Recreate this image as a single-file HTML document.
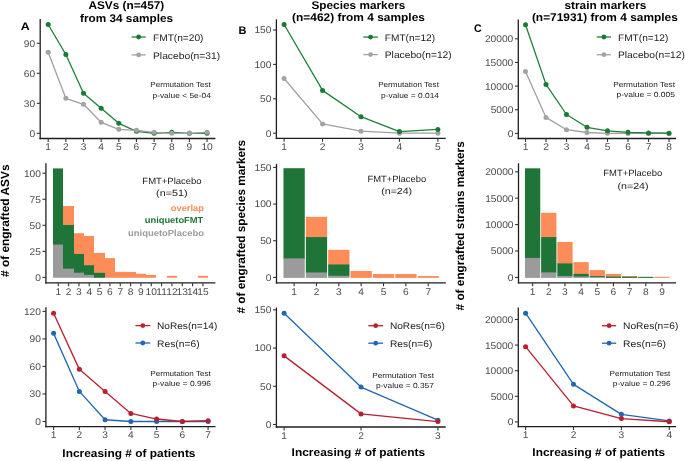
<!DOCTYPE html>
<html><head><meta charset="utf-8"><title>Engraftment figure</title>
<style>html,body{margin:0;padding:0;background:#fff;width:685px;height:461px;overflow:hidden;}
text{font-family:'Liberation Sans',sans-serif;text-rendering:geometricPrecision;}</style></head>
<body>
<svg width="685" height="461" viewBox="0 0 685 461" style="display:block;will-change:transform;filter:blur(0.3px);font-family:'Liberation Sans',sans-serif">
<rect width="100%" height="100%" fill="#fff"/>
<text transform="translate(88.45,9) scale(1,0.95)" font-size="11.8" fill="#000" font-weight="bold" textLength="75.74" lengthAdjust="spacingAndGlyphs">ASVs (n=457)</text>
<text transform="translate(80.06,21.6) scale(1,0.95)" font-size="11.8" fill="#000" font-weight="bold" textLength="92.94" lengthAdjust="spacingAndGlyphs">from 34 samples</text>
<text transform="translate(311.45,8.8) scale(1,0.95)" font-size="11.8" fill="#000" font-weight="bold" textLength="93.93" lengthAdjust="spacingAndGlyphs">Species markers</text>
<text transform="translate(292.1,21.4) scale(1,0.95)" font-size="11.8" fill="#000" font-weight="bold" textLength="132.82" lengthAdjust="spacingAndGlyphs">(n=462) from 4 samples</text>
<text transform="translate(564.42,8.7) scale(1,0.95)" font-size="11.8" fill="#000" font-weight="bold" textLength="81.99" lengthAdjust="spacingAndGlyphs">strain markers</text>
<text transform="translate(531.9,21.1) scale(1,0.95)" font-size="11.8" fill="#000" font-weight="bold" textLength="145.94" lengthAdjust="spacingAndGlyphs">(n=71931) from 4 samples</text>
<text x="20.73" y="29.7" font-size="11" fill="#000" font-weight="bold" textLength="8.97" lengthAdjust="spacingAndGlyphs">A</text>
<text x="238.43" y="33.6" font-size="11" fill="#000" font-weight="bold" textLength="7.93" lengthAdjust="spacingAndGlyphs">B</text>
<text x="473.88" y="32.2" font-size="11" fill="#000" font-weight="bold" textLength="7.67" lengthAdjust="spacingAndGlyphs">C</text>
<line x1="40.2" y1="19.1" x2="40.2" y2="139.15" stroke="#1e1e1e" stroke-width="1.3"/>
<line x1="39.55" y1="138.5" x2="215.4" y2="138.5" stroke="#1e1e1e" stroke-width="1.3"/>
<line x1="36.8" y1="133.3" x2="40.2" y2="133.3" stroke="#333333" stroke-width="1.1"/>
<text transform="translate(35.2,136.7) scale(1,0.95)" font-size="10.2" text-anchor="end" fill="#4d4d4d">0</text>
<line x1="36.8" y1="103.3" x2="40.2" y2="103.3" stroke="#333333" stroke-width="1.1"/>
<text transform="translate(35.2,106.7) scale(1,0.95)" font-size="10.2" text-anchor="end" fill="#4d4d4d">30</text>
<line x1="36.8" y1="73.3" x2="40.2" y2="73.3" stroke="#333333" stroke-width="1.1"/>
<text transform="translate(35.2,76.7) scale(1,0.95)" font-size="10.2" text-anchor="end" fill="#4d4d4d">60</text>
<line x1="36.8" y1="43.3" x2="40.2" y2="43.3" stroke="#333333" stroke-width="1.1"/>
<text transform="translate(35.2,46.7) scale(1,0.95)" font-size="10.2" text-anchor="end" fill="#4d4d4d">90</text>
<line x1="48.2" y1="138.5" x2="48.2" y2="141.9" stroke="#333333" stroke-width="1.1"/>
<text transform="translate(48.2,150.2) scale(1,0.95)" font-size="10.2" text-anchor="middle" fill="#4d4d4d">1</text>
<line x1="65.85" y1="138.5" x2="65.85" y2="141.9" stroke="#333333" stroke-width="1.1"/>
<text transform="translate(65.85,150.2) scale(1,0.95)" font-size="10.2" text-anchor="middle" fill="#4d4d4d">2</text>
<line x1="83.5" y1="138.5" x2="83.5" y2="141.9" stroke="#333333" stroke-width="1.1"/>
<text transform="translate(83.5,150.2) scale(1,0.95)" font-size="10.2" text-anchor="middle" fill="#4d4d4d">3</text>
<line x1="101.15" y1="138.5" x2="101.15" y2="141.9" stroke="#333333" stroke-width="1.1"/>
<text transform="translate(101.15,150.2) scale(1,0.95)" font-size="10.2" text-anchor="middle" fill="#4d4d4d">4</text>
<line x1="118.8" y1="138.5" x2="118.8" y2="141.9" stroke="#333333" stroke-width="1.1"/>
<text transform="translate(118.8,150.2) scale(1,0.95)" font-size="10.2" text-anchor="middle" fill="#4d4d4d">5</text>
<line x1="136.45" y1="138.5" x2="136.45" y2="141.9" stroke="#333333" stroke-width="1.1"/>
<text transform="translate(136.45,150.2) scale(1,0.95)" font-size="10.2" text-anchor="middle" fill="#4d4d4d">6</text>
<line x1="154.1" y1="138.5" x2="154.1" y2="141.9" stroke="#333333" stroke-width="1.1"/>
<text transform="translate(154.1,150.2) scale(1,0.95)" font-size="10.2" text-anchor="middle" fill="#4d4d4d">7</text>
<line x1="171.75" y1="138.5" x2="171.75" y2="141.9" stroke="#333333" stroke-width="1.1"/>
<text transform="translate(171.75,150.2) scale(1,0.95)" font-size="10.2" text-anchor="middle" fill="#4d4d4d">8</text>
<line x1="189.4" y1="138.5" x2="189.4" y2="141.9" stroke="#333333" stroke-width="1.1"/>
<text transform="translate(189.4,150.2) scale(1,0.95)" font-size="10.2" text-anchor="middle" fill="#4d4d4d">9</text>
<line x1="207.05" y1="138.5" x2="207.05" y2="141.9" stroke="#333333" stroke-width="1.1"/>
<text transform="translate(207.05,150.2) scale(1,0.95)" font-size="10.2" text-anchor="middle" fill="#4d4d4d">10</text>
<polyline points="48.2,24.5 65.85,54.5 83.5,93.3 101.15,108.3 118.8,123.3 136.45,131.3 154.1,133.3 171.75,132.3 189.4,133.3 207.05,133.3" fill="none" stroke="#1f7f3b" stroke-width="1.3" stroke-linejoin="round"/>
<polyline points="48.2,52.3 65.85,98.3 83.5,104.3 101.15,122.3 118.8,129.3 136.45,130.3 154.1,132.3 171.75,133.3 189.4,133.3 207.05,132.3" fill="none" stroke="#a0a0a0" stroke-width="1.3" stroke-linejoin="round"/>
<circle cx="48.2" cy="24.5" r="2.5" fill="#187a33"/>
<circle cx="65.85" cy="54.5" r="2.5" fill="#187a33"/>
<circle cx="83.5" cy="93.3" r="2.5" fill="#187a33"/>
<circle cx="101.15" cy="108.3" r="2.5" fill="#187a33"/>
<circle cx="118.8" cy="123.3" r="2.5" fill="#187a33"/>
<circle cx="136.45" cy="131.3" r="2.5" fill="#187a33"/>
<circle cx="154.1" cy="133.3" r="2.5" fill="#187a33"/>
<circle cx="171.75" cy="132.3" r="2.5" fill="#187a33"/>
<circle cx="189.4" cy="133.3" r="2.5" fill="#187a33"/>
<circle cx="207.05" cy="133.3" r="2.5" fill="#187a33"/>
<circle cx="48.2" cy="52.3" r="2.5" fill="#a3a3a3"/>
<circle cx="65.85" cy="98.3" r="2.5" fill="#a3a3a3"/>
<circle cx="83.5" cy="104.3" r="2.5" fill="#a3a3a3"/>
<circle cx="101.15" cy="122.3" r="2.5" fill="#a3a3a3"/>
<circle cx="118.8" cy="129.3" r="2.5" fill="#a3a3a3"/>
<circle cx="136.45" cy="130.3" r="2.5" fill="#a3a3a3"/>
<circle cx="154.1" cy="132.3" r="2.5" fill="#a3a3a3"/>
<circle cx="171.75" cy="133.3" r="2.5" fill="#a3a3a3"/>
<circle cx="189.4" cy="133.3" r="2.5" fill="#a3a3a3"/>
<circle cx="207.05" cy="132.3" r="2.5" fill="#a3a3a3"/>
<line x1="131.6" y1="37" x2="145.7" y2="37" stroke="#1f7f3b" stroke-width="1.3"/>
<circle cx="138.65" cy="37" r="2.4" fill="#187a33"/>
<text transform="translate(152.99,40.6) scale(1,0.95)" font-size="10" fill="#1a1a1a" textLength="50.45" lengthAdjust="spacingAndGlyphs">FMT(n=20)</text>
<line x1="131.6" y1="54.9" x2="145.7" y2="54.9" stroke="#a0a0a0" stroke-width="1.3"/>
<circle cx="138.65" cy="54.9" r="2.4" fill="#a3a3a3"/>
<text transform="translate(152.98,58.5) scale(1,0.95)" font-size="10" fill="#1a1a1a" textLength="67.27" lengthAdjust="spacingAndGlyphs">Placebo(n=31)</text>
<text transform="translate(150.35,87.2) scale(1,0.92)" font-size="8" fill="#1a1a1a" textLength="60.39" lengthAdjust="spacingAndGlyphs">Permutation Test</text>
<text transform="translate(152.51,97.7) scale(1,0.92)" font-size="8" fill="#1a1a1a" textLength="58.31" lengthAdjust="spacingAndGlyphs">p-value &lt; 5e-04</text>
<rect x="53" y="168.41" width="10" height="76.77" fill="#1f7538"/>
<rect x="53" y="244.58" width="10" height="33.22" fill="#9b9b9b"/>
<rect x="63" y="206.02" width="11" height="19.56" fill="#fc8d59"/>
<rect x="63" y="224.99" width="11" height="44.26" fill="#1f7538"/>
<rect x="63" y="268.65" width="11" height="9.15" fill="#9b9b9b"/>
<rect x="74" y="233.22" width="10" height="21.34" fill="#fc8d59"/>
<rect x="74" y="253.95" width="10" height="19.36" fill="#1f7538"/>
<rect x="74" y="272.71" width="10" height="5.09" fill="#9b9b9b"/>
<rect x="84" y="235.93" width="10" height="29.88" fill="#fc8d59"/>
<rect x="84" y="265.21" width="10" height="10.29" fill="#1f7538"/>
<rect x="84" y="274.9" width="10" height="2.9" fill="#9b9b9b"/>
<rect x="94" y="252.91" width="11" height="20.5" fill="#fc8d59"/>
<rect x="94" y="272.82" width="11" height="4.98" fill="#1f7538"/>
<rect x="105" y="258.12" width="10" height="19.68" fill="#fc8d59"/>
<rect x="115" y="271.88" width="10" height="5.92" fill="#fc8d59"/>
<rect x="125" y="271.88" width="11" height="5.92" fill="#fc8d59"/>
<rect x="136" y="273.75" width="10" height="4.05" fill="#fc8d59"/>
<rect x="146" y="275" width="10" height="2.8" fill="#fc8d59"/>
<rect x="167" y="275.84" width="10" height="1.96" fill="#fc8d59"/>
<rect x="198" y="275.84" width="10" height="1.96" fill="#fc8d59"/>
<line x1="45.9" y1="163.2" x2="45.9" y2="283.45" stroke="#1e1e1e" stroke-width="1.3"/>
<line x1="45.25" y1="282.8" x2="215.4" y2="282.8" stroke="#1e1e1e" stroke-width="1.3"/>
<line x1="42.5" y1="277.4" x2="45.9" y2="277.4" stroke="#333333" stroke-width="1.1"/>
<text transform="translate(40.9,280.8) scale(1,0.95)" font-size="10.2" text-anchor="end" fill="#4d4d4d">0</text>
<line x1="42.5" y1="251.35" x2="45.9" y2="251.35" stroke="#333333" stroke-width="1.1"/>
<text transform="translate(40.9,254.75) scale(1,0.95)" font-size="10.2" text-anchor="end" fill="#4d4d4d">25</text>
<line x1="42.5" y1="225.3" x2="45.9" y2="225.3" stroke="#333333" stroke-width="1.1"/>
<text transform="translate(40.9,228.7) scale(1,0.95)" font-size="10.2" text-anchor="end" fill="#4d4d4d">50</text>
<line x1="42.5" y1="199.25" x2="45.9" y2="199.25" stroke="#333333" stroke-width="1.1"/>
<text transform="translate(40.9,202.65) scale(1,0.95)" font-size="10.2" text-anchor="end" fill="#4d4d4d">75</text>
<line x1="42.5" y1="173.2" x2="45.9" y2="173.2" stroke="#333333" stroke-width="1.1"/>
<text transform="translate(40.9,176.6) scale(1,0.95)" font-size="10.2" text-anchor="end" fill="#4d4d4d">100</text>
<line x1="58.27" y1="282.8" x2="58.27" y2="286.2" stroke="#333333" stroke-width="1.1"/>
<text transform="translate(58.27,294.5) scale(1,0.95)" font-size="10.2" text-anchor="middle" fill="#4d4d4d">1</text>
<line x1="68.6" y1="282.8" x2="68.6" y2="286.2" stroke="#333333" stroke-width="1.1"/>
<text transform="translate(68.6,294.5) scale(1,0.95)" font-size="10.2" text-anchor="middle" fill="#4d4d4d">2</text>
<line x1="78.94" y1="282.8" x2="78.94" y2="286.2" stroke="#333333" stroke-width="1.1"/>
<text transform="translate(78.94,294.5) scale(1,0.95)" font-size="10.2" text-anchor="middle" fill="#4d4d4d">3</text>
<line x1="89.27" y1="282.8" x2="89.27" y2="286.2" stroke="#333333" stroke-width="1.1"/>
<text transform="translate(89.27,294.5) scale(1,0.95)" font-size="10.2" text-anchor="middle" fill="#4d4d4d">4</text>
<line x1="99.6" y1="282.8" x2="99.6" y2="286.2" stroke="#333333" stroke-width="1.1"/>
<text transform="translate(99.6,294.5) scale(1,0.95)" font-size="10.2" text-anchor="middle" fill="#4d4d4d">5</text>
<line x1="109.94" y1="282.8" x2="109.94" y2="286.2" stroke="#333333" stroke-width="1.1"/>
<text transform="translate(109.94,294.5) scale(1,0.95)" font-size="10.2" text-anchor="middle" fill="#4d4d4d">6</text>
<line x1="120.27" y1="282.8" x2="120.27" y2="286.2" stroke="#333333" stroke-width="1.1"/>
<text transform="translate(120.27,294.5) scale(1,0.95)" font-size="10.2" text-anchor="middle" fill="#4d4d4d">7</text>
<line x1="130.6" y1="282.8" x2="130.6" y2="286.2" stroke="#333333" stroke-width="1.1"/>
<text transform="translate(130.6,294.5) scale(1,0.95)" font-size="10.2" text-anchor="middle" fill="#4d4d4d">8</text>
<line x1="140.93" y1="282.8" x2="140.93" y2="286.2" stroke="#333333" stroke-width="1.1"/>
<text transform="translate(140.93,294.5) scale(1,0.95)" font-size="10.2" text-anchor="middle" fill="#4d4d4d">9</text>
<line x1="151.27" y1="282.8" x2="151.27" y2="286.2" stroke="#333333" stroke-width="1.1"/>
<text transform="translate(151.27,294.5) scale(1,0.95)" font-size="10.2" text-anchor="middle" fill="#4d4d4d">10</text>
<line x1="161.6" y1="282.8" x2="161.6" y2="286.2" stroke="#333333" stroke-width="1.1"/>
<text transform="translate(161.6,294.5) scale(1,0.95)" font-size="10.2" text-anchor="middle" fill="#4d4d4d">11</text>
<line x1="171.93" y1="282.8" x2="171.93" y2="286.2" stroke="#333333" stroke-width="1.1"/>
<text transform="translate(171.93,294.5) scale(1,0.95)" font-size="10.2" text-anchor="middle" fill="#4d4d4d">12</text>
<line x1="182.27" y1="282.8" x2="182.27" y2="286.2" stroke="#333333" stroke-width="1.1"/>
<text transform="translate(182.27,294.5) scale(1,0.95)" font-size="10.2" text-anchor="middle" fill="#4d4d4d">13</text>
<line x1="192.6" y1="282.8" x2="192.6" y2="286.2" stroke="#333333" stroke-width="1.1"/>
<text transform="translate(192.6,294.5) scale(1,0.95)" font-size="10.2" text-anchor="middle" fill="#4d4d4d">14</text>
<line x1="202.93" y1="282.8" x2="202.93" y2="286.2" stroke="#333333" stroke-width="1.1"/>
<text transform="translate(202.93,294.5) scale(1,0.95)" font-size="10.2" text-anchor="middle" fill="#4d4d4d">15</text>
<text transform="translate(142.34,183.7) scale(1,0.95)" font-size="9.4" fill="#1a1a1a" textLength="59.26" lengthAdjust="spacingAndGlyphs">FMT+Placebo</text>
<text transform="translate(156.05,195.8) scale(1,0.95)" font-size="9.4" fill="#1a1a1a" textLength="31.48" lengthAdjust="spacingAndGlyphs">(n=51)</text>
<text transform="translate(170.73,211.3) scale(1,0.95)" font-size="9.3" fill="#fc8d59" font-weight="bold" textLength="33.22" lengthAdjust="spacingAndGlyphs">overlap</text>
<text transform="translate(144.74,223.3) scale(1,0.95)" font-size="9.3" fill="#1f7538" font-weight="bold" textLength="58.51" lengthAdjust="spacingAndGlyphs">uniquetoFMT</text>
<text transform="translate(128.03,235.5) scale(1,0.95)" font-size="9.3" fill="#9b9b9b" font-weight="bold" textLength="75.91" lengthAdjust="spacingAndGlyphs">uniquetoPlacebo</text>
<line x1="45.9" y1="307.3" x2="45.9" y2="427.35" stroke="#1e1e1e" stroke-width="1.3"/>
<line x1="45.25" y1="426.7" x2="215.5" y2="426.7" stroke="#1e1e1e" stroke-width="1.3"/>
<line x1="42.5" y1="421.5" x2="45.9" y2="421.5" stroke="#333333" stroke-width="1.1"/>
<text transform="translate(40.9,424.9) scale(1,0.95)" font-size="10.2" text-anchor="end" fill="#4d4d4d">0</text>
<line x1="42.5" y1="393.96" x2="45.9" y2="393.96" stroke="#333333" stroke-width="1.1"/>
<text transform="translate(40.9,397.36) scale(1,0.95)" font-size="10.2" text-anchor="end" fill="#4d4d4d">30</text>
<line x1="42.5" y1="366.42" x2="45.9" y2="366.42" stroke="#333333" stroke-width="1.1"/>
<text transform="translate(40.9,369.82) scale(1,0.95)" font-size="10.2" text-anchor="end" fill="#4d4d4d">60</text>
<line x1="42.5" y1="338.88" x2="45.9" y2="338.88" stroke="#333333" stroke-width="1.1"/>
<text transform="translate(40.9,342.28) scale(1,0.95)" font-size="10.2" text-anchor="end" fill="#4d4d4d">90</text>
<line x1="42.5" y1="311.34" x2="45.9" y2="311.34" stroke="#333333" stroke-width="1.1"/>
<text transform="translate(40.9,314.74) scale(1,0.95)" font-size="10.2" text-anchor="end" fill="#4d4d4d">120</text>
<line x1="53.6" y1="426.7" x2="53.6" y2="430.1" stroke="#333333" stroke-width="1.1"/>
<text transform="translate(53.6,438.4) scale(1,0.95)" font-size="10.2" text-anchor="middle" fill="#4d4d4d">1</text>
<line x1="79.35" y1="426.7" x2="79.35" y2="430.1" stroke="#333333" stroke-width="1.1"/>
<text transform="translate(79.35,438.4) scale(1,0.95)" font-size="10.2" text-anchor="middle" fill="#4d4d4d">2</text>
<line x1="105.1" y1="426.7" x2="105.1" y2="430.1" stroke="#333333" stroke-width="1.1"/>
<text transform="translate(105.1,438.4) scale(1,0.95)" font-size="10.2" text-anchor="middle" fill="#4d4d4d">3</text>
<line x1="130.85" y1="426.7" x2="130.85" y2="430.1" stroke="#333333" stroke-width="1.1"/>
<text transform="translate(130.85,438.4) scale(1,0.95)" font-size="10.2" text-anchor="middle" fill="#4d4d4d">4</text>
<line x1="156.6" y1="426.7" x2="156.6" y2="430.1" stroke="#333333" stroke-width="1.1"/>
<text transform="translate(156.6,438.4) scale(1,0.95)" font-size="10.2" text-anchor="middle" fill="#4d4d4d">5</text>
<line x1="182.35" y1="426.7" x2="182.35" y2="430.1" stroke="#333333" stroke-width="1.1"/>
<text transform="translate(182.35,438.4) scale(1,0.95)" font-size="10.2" text-anchor="middle" fill="#4d4d4d">6</text>
<line x1="208.1" y1="426.7" x2="208.1" y2="430.1" stroke="#333333" stroke-width="1.1"/>
<text transform="translate(208.1,438.4) scale(1,0.95)" font-size="10.2" text-anchor="middle" fill="#4d4d4d">7</text>
<polyline points="53.6,333.37 79.35,391.39 105.1,419.76 130.85,421.5 156.6,421.5 182.35,421.5 208.1,421.5" fill="none" stroke="#2366b0" stroke-width="1.3" stroke-linejoin="round"/>
<polyline points="53.6,313.18 79.35,369.36 105.1,391.39 130.85,413.42 156.6,419.02 182.35,421.5 208.1,420.67" fill="none" stroke="#b8202f" stroke-width="1.3" stroke-linejoin="round"/>
<circle cx="53.6" cy="333.37" r="2.5" fill="#2366b0"/>
<circle cx="79.35" cy="391.39" r="2.5" fill="#2366b0"/>
<circle cx="105.1" cy="419.76" r="2.5" fill="#2366b0"/>
<circle cx="130.85" cy="421.5" r="2.5" fill="#2366b0"/>
<circle cx="156.6" cy="421.5" r="2.5" fill="#2366b0"/>
<circle cx="182.35" cy="421.5" r="2.5" fill="#2366b0"/>
<circle cx="208.1" cy="421.5" r="2.5" fill="#2366b0"/>
<circle cx="53.6" cy="313.18" r="2.5" fill="#b8202f"/>
<circle cx="79.35" cy="369.36" r="2.5" fill="#b8202f"/>
<circle cx="105.1" cy="391.39" r="2.5" fill="#b8202f"/>
<circle cx="130.85" cy="413.42" r="2.5" fill="#b8202f"/>
<circle cx="156.6" cy="419.02" r="2.5" fill="#b8202f"/>
<circle cx="182.35" cy="421.5" r="2.5" fill="#b8202f"/>
<circle cx="208.1" cy="420.67" r="2.5" fill="#b8202f"/>
<line x1="135.4" y1="325.6" x2="150.2" y2="325.6" stroke="#b8202f" stroke-width="1.3"/>
<circle cx="142.8" cy="325.6" r="2.4" fill="#b8202f"/>
<text transform="translate(157.09,329.2) scale(1,0.95)" font-size="10" fill="#1a1a1a" textLength="60.26" lengthAdjust="spacingAndGlyphs">NoRes(n=14)</text>
<line x1="135.4" y1="343" x2="150.2" y2="343" stroke="#2366b0" stroke-width="1.3"/>
<circle cx="142.8" cy="343" r="2.4" fill="#2366b0"/>
<text transform="translate(157.08,346.6) scale(1,0.95)" font-size="10" fill="#1a1a1a" textLength="42.54" lengthAdjust="spacingAndGlyphs">Res(n=6)</text>
<text transform="translate(150.35,375.6) scale(1,0.92)" font-size="8" fill="#1a1a1a" textLength="60.39" lengthAdjust="spacingAndGlyphs">Permutation Test</text>
<text transform="translate(152.51,385.9) scale(1,0.92)" font-size="8" fill="#1a1a1a" textLength="58.55" lengthAdjust="spacingAndGlyphs">p-value = 0.996</text>
<line x1="276.4" y1="19.3" x2="276.4" y2="139.1" stroke="#1e1e1e" stroke-width="1.3"/>
<line x1="275.75" y1="138.45" x2="445.7" y2="138.45" stroke="#1e1e1e" stroke-width="1.3"/>
<line x1="273" y1="133.2" x2="276.4" y2="133.2" stroke="#333333" stroke-width="1.1"/>
<text transform="translate(271.4,136.6) scale(1,0.95)" font-size="10.2" text-anchor="end" fill="#4d4d4d">0</text>
<line x1="273" y1="98.8" x2="276.4" y2="98.8" stroke="#333333" stroke-width="1.1"/>
<text transform="translate(271.4,102.2) scale(1,0.95)" font-size="10.2" text-anchor="end" fill="#4d4d4d">50</text>
<line x1="273" y1="64.4" x2="276.4" y2="64.4" stroke="#333333" stroke-width="1.1"/>
<text transform="translate(271.4,67.8) scale(1,0.95)" font-size="10.2" text-anchor="end" fill="#4d4d4d">100</text>
<line x1="273" y1="30" x2="276.4" y2="30" stroke="#333333" stroke-width="1.1"/>
<text transform="translate(271.4,33.4) scale(1,0.95)" font-size="10.2" text-anchor="end" fill="#4d4d4d">150</text>
<line x1="284.1" y1="138.45" x2="284.1" y2="141.85" stroke="#333333" stroke-width="1.1"/>
<text transform="translate(284.1,150.15) scale(1,0.95)" font-size="10.2" text-anchor="middle" fill="#4d4d4d">1</text>
<line x1="322.55" y1="138.45" x2="322.55" y2="141.85" stroke="#333333" stroke-width="1.1"/>
<text transform="translate(322.55,150.15) scale(1,0.95)" font-size="10.2" text-anchor="middle" fill="#4d4d4d">2</text>
<line x1="361" y1="138.45" x2="361" y2="141.85" stroke="#333333" stroke-width="1.1"/>
<text transform="translate(361,150.15) scale(1,0.95)" font-size="10.2" text-anchor="middle" fill="#4d4d4d">3</text>
<line x1="399.45" y1="138.45" x2="399.45" y2="141.85" stroke="#333333" stroke-width="1.1"/>
<text transform="translate(399.45,150.15) scale(1,0.95)" font-size="10.2" text-anchor="middle" fill="#4d4d4d">4</text>
<line x1="437.9" y1="138.45" x2="437.9" y2="141.85" stroke="#333333" stroke-width="1.1"/>
<text transform="translate(437.9,150.15) scale(1,0.95)" font-size="10.2" text-anchor="middle" fill="#4d4d4d">5</text>
<polyline points="284.1,78.5 322.55,123.91 361,131.14 399.45,133.2 437.9,133.2" fill="none" stroke="#a0a0a0" stroke-width="1.3" stroke-linejoin="round"/>
<polyline points="284.1,24.5 322.55,90.41 361,116.69 399.45,131.62 437.9,129.42" fill="none" stroke="#1f7f3b" stroke-width="1.3" stroke-linejoin="round"/>
<circle cx="284.1" cy="78.5" r="2.5" fill="#a3a3a3"/>
<circle cx="322.55" cy="123.91" r="2.5" fill="#a3a3a3"/>
<circle cx="361" cy="131.14" r="2.5" fill="#a3a3a3"/>
<circle cx="399.45" cy="133.2" r="2.5" fill="#a3a3a3"/>
<circle cx="437.9" cy="133.2" r="2.5" fill="#a3a3a3"/>
<circle cx="284.1" cy="24.5" r="2.5" fill="#187a33"/>
<circle cx="322.55" cy="90.41" r="2.5" fill="#187a33"/>
<circle cx="361" cy="116.69" r="2.5" fill="#187a33"/>
<circle cx="399.45" cy="131.62" r="2.5" fill="#187a33"/>
<circle cx="437.9" cy="129.42" r="2.5" fill="#187a33"/>
<line x1="363.3" y1="37.1" x2="377.8" y2="37.1" stroke="#1f7f3b" stroke-width="1.3"/>
<circle cx="370.55" cy="37.1" r="2.4" fill="#187a33"/>
<text transform="translate(384.79,40.7) scale(1,0.95)" font-size="10" fill="#1a1a1a" textLength="50.25" lengthAdjust="spacingAndGlyphs">FMT(n=12)</text>
<line x1="363.3" y1="54.6" x2="377.8" y2="54.6" stroke="#a0a0a0" stroke-width="1.3"/>
<circle cx="370.55" cy="54.6" r="2.4" fill="#a3a3a3"/>
<text transform="translate(384.78,58.2) scale(1,0.95)" font-size="10" fill="#1a1a1a" textLength="66.96" lengthAdjust="spacingAndGlyphs">Placebo(n=12)</text>
<text transform="translate(378.15,87.2) scale(1,0.92)" font-size="8" fill="#1a1a1a" textLength="60.79" lengthAdjust="spacingAndGlyphs">Permutation Test</text>
<text transform="translate(381.11,97.6) scale(1,0.92)" font-size="8" fill="#1a1a1a" textLength="57.85" lengthAdjust="spacingAndGlyphs">p-value = 0.014</text>
<rect x="283.47" y="168.21" width="21.3" height="90.8" fill="#1f7538"/>
<rect x="283.47" y="258.41" width="21.3" height="19.49" fill="#9b9b9b"/>
<rect x="305.82" y="216.83" width="21.3" height="20.84" fill="#fc8d59"/>
<rect x="305.82" y="237.07" width="21.3" height="36.02" fill="#1f7538"/>
<rect x="305.82" y="272.49" width="21.3" height="5.41" fill="#9b9b9b"/>
<rect x="328.17" y="249.83" width="21.3" height="15.27" fill="#fc8d59"/>
<rect x="328.17" y="264.49" width="21.3" height="11.89" fill="#1f7538"/>
<rect x="328.17" y="275.79" width="21.3" height="2.11" fill="#9b9b9b"/>
<rect x="350.52" y="271.02" width="21.3" height="6.88" fill="#fc8d59"/>
<rect x="372.87" y="274.03" width="21.3" height="3.87" fill="#fc8d59"/>
<rect x="395.22" y="274.03" width="21.3" height="3.87" fill="#fc8d59"/>
<rect x="417.57" y="276.08" width="21.3" height="1.82" fill="#fc8d59"/>
<line x1="276.5" y1="163.8" x2="276.5" y2="283.45" stroke="#1e1e1e" stroke-width="1.3"/>
<line x1="275.85" y1="282.8" x2="445.8" y2="282.8" stroke="#1e1e1e" stroke-width="1.3"/>
<line x1="273.1" y1="277.4" x2="276.5" y2="277.4" stroke="#333333" stroke-width="1.1"/>
<text transform="translate(271.5,280.8) scale(1,0.95)" font-size="10.2" text-anchor="end" fill="#4d4d4d">0</text>
<line x1="273.1" y1="240.73" x2="276.5" y2="240.73" stroke="#333333" stroke-width="1.1"/>
<text transform="translate(271.5,244.13) scale(1,0.95)" font-size="10.2" text-anchor="end" fill="#4d4d4d">50</text>
<line x1="273.1" y1="204.07" x2="276.5" y2="204.07" stroke="#333333" stroke-width="1.1"/>
<text transform="translate(271.5,207.47) scale(1,0.95)" font-size="10.2" text-anchor="end" fill="#4d4d4d">100</text>
<line x1="273.1" y1="167.4" x2="276.5" y2="167.4" stroke="#333333" stroke-width="1.1"/>
<text transform="translate(271.5,170.8) scale(1,0.95)" font-size="10.2" text-anchor="end" fill="#4d4d4d">150</text>
<line x1="294.12" y1="282.8" x2="294.12" y2="286.2" stroke="#333333" stroke-width="1.1"/>
<text transform="translate(294.12,294.5) scale(1,0.95)" font-size="10.2" text-anchor="middle" fill="#4d4d4d">1</text>
<line x1="316.47" y1="282.8" x2="316.47" y2="286.2" stroke="#333333" stroke-width="1.1"/>
<text transform="translate(316.47,294.5) scale(1,0.95)" font-size="10.2" text-anchor="middle" fill="#4d4d4d">2</text>
<line x1="338.82" y1="282.8" x2="338.82" y2="286.2" stroke="#333333" stroke-width="1.1"/>
<text transform="translate(338.82,294.5) scale(1,0.95)" font-size="10.2" text-anchor="middle" fill="#4d4d4d">3</text>
<line x1="361.17" y1="282.8" x2="361.17" y2="286.2" stroke="#333333" stroke-width="1.1"/>
<text transform="translate(361.17,294.5) scale(1,0.95)" font-size="10.2" text-anchor="middle" fill="#4d4d4d">4</text>
<line x1="383.52" y1="282.8" x2="383.52" y2="286.2" stroke="#333333" stroke-width="1.1"/>
<text transform="translate(383.52,294.5) scale(1,0.95)" font-size="10.2" text-anchor="middle" fill="#4d4d4d">5</text>
<line x1="405.87" y1="282.8" x2="405.87" y2="286.2" stroke="#333333" stroke-width="1.1"/>
<text transform="translate(405.87,294.5) scale(1,0.95)" font-size="10.2" text-anchor="middle" fill="#4d4d4d">6</text>
<line x1="428.22" y1="282.8" x2="428.22" y2="286.2" stroke="#333333" stroke-width="1.1"/>
<text transform="translate(428.22,294.5) scale(1,0.95)" font-size="10.2" text-anchor="middle" fill="#4d4d4d">7</text>
<text transform="translate(367.45,181.7) scale(1,0.95)" font-size="9.4" fill="#1a1a1a" textLength="58.65" lengthAdjust="spacingAndGlyphs">FMT+Placebo</text>
<text transform="translate(381.27,193.7) scale(1,0.95)" font-size="9.4" fill="#1a1a1a" textLength="30.85" lengthAdjust="spacingAndGlyphs">(n=24)</text>
<line x1="276.4" y1="307.6" x2="276.4" y2="427.65" stroke="#1e1e1e" stroke-width="1.3"/>
<line x1="275.75" y1="427" x2="445.7" y2="427" stroke="#1e1e1e" stroke-width="1.3"/>
<line x1="273" y1="424.5" x2="276.4" y2="424.5" stroke="#333333" stroke-width="1.1"/>
<text transform="translate(271.4,427.9) scale(1,0.95)" font-size="10.2" text-anchor="end" fill="#4d4d4d">0</text>
<line x1="273" y1="386.29" x2="276.4" y2="386.29" stroke="#333333" stroke-width="1.1"/>
<text transform="translate(271.4,389.69) scale(1,0.95)" font-size="10.2" text-anchor="end" fill="#4d4d4d">50</text>
<line x1="273" y1="348.07" x2="276.4" y2="348.07" stroke="#333333" stroke-width="1.1"/>
<text transform="translate(271.4,351.47) scale(1,0.95)" font-size="10.2" text-anchor="end" fill="#4d4d4d">100</text>
<line x1="273" y1="309.86" x2="276.4" y2="309.86" stroke="#333333" stroke-width="1.1"/>
<text transform="translate(271.4,313.25) scale(1,0.95)" font-size="10.2" text-anchor="end" fill="#4d4d4d">150</text>
<line x1="284.1" y1="427" x2="284.1" y2="430.4" stroke="#333333" stroke-width="1.1"/>
<text transform="translate(284.1,438.7) scale(1,0.95)" font-size="10.2" text-anchor="middle" fill="#4d4d4d">1</text>
<line x1="361" y1="427" x2="361" y2="430.4" stroke="#333333" stroke-width="1.1"/>
<text transform="translate(361,438.7) scale(1,0.95)" font-size="10.2" text-anchor="middle" fill="#4d4d4d">2</text>
<line x1="437.9" y1="427" x2="437.9" y2="430.4" stroke="#333333" stroke-width="1.1"/>
<text transform="translate(437.9,438.7) scale(1,0.95)" font-size="10.2" text-anchor="middle" fill="#4d4d4d">3</text>
<polyline points="284.1,313.22 361,387.05 437.9,420.22" fill="none" stroke="#2366b0" stroke-width="1.3" stroke-linejoin="round"/>
<polyline points="284.1,355.87 361,413.88 437.9,421.6" fill="none" stroke="#b8202f" stroke-width="1.3" stroke-linejoin="round"/>
<circle cx="284.1" cy="313.22" r="2.5" fill="#2366b0"/>
<circle cx="361" cy="387.05" r="2.5" fill="#2366b0"/>
<circle cx="437.9" cy="420.22" r="2.5" fill="#2366b0"/>
<circle cx="284.1" cy="355.87" r="2.5" fill="#b8202f"/>
<circle cx="361" cy="413.88" r="2.5" fill="#b8202f"/>
<circle cx="437.9" cy="421.6" r="2.5" fill="#b8202f"/>
<line x1="368.3" y1="325.7" x2="383.1" y2="325.7" stroke="#b8202f" stroke-width="1.3"/>
<circle cx="375.7" cy="325.7" r="2.4" fill="#b8202f"/>
<text transform="translate(389.89,329.3) scale(1,0.95)" font-size="10" fill="#1a1a1a" textLength="54.91" lengthAdjust="spacingAndGlyphs">NoRes(n=6)</text>
<line x1="368.3" y1="343.2" x2="383.1" y2="343.2" stroke="#2366b0" stroke-width="1.3"/>
<circle cx="375.7" cy="343.2" r="2.4" fill="#2366b0"/>
<text transform="translate(389.88,346.8) scale(1,0.95)" font-size="10" fill="#1a1a1a" textLength="42.44" lengthAdjust="spacingAndGlyphs">Res(n=6)</text>
<text transform="translate(372.14,377.7) scale(1,0.92)" font-size="8" fill="#1a1a1a" textLength="61.81" lengthAdjust="spacingAndGlyphs">Permutation Test</text>
<text transform="translate(375.91,387.5) scale(1,0.92)" font-size="8" fill="#1a1a1a" textLength="58.02" lengthAdjust="spacingAndGlyphs">p-value = 0.357</text>
<line x1="518.3" y1="19.4" x2="518.3" y2="139.15" stroke="#1e1e1e" stroke-width="1.3"/>
<line x1="517.65" y1="138.5" x2="676.1" y2="138.5" stroke="#1e1e1e" stroke-width="1.3"/>
<line x1="514.9" y1="133.4" x2="518.3" y2="133.4" stroke="#333333" stroke-width="1.1"/>
<text transform="translate(513.3,136.8) scale(1,0.95)" font-size="10.2" text-anchor="end" fill="#4d4d4d">0</text>
<line x1="514.9" y1="109.75" x2="518.3" y2="109.75" stroke="#333333" stroke-width="1.1"/>
<text transform="translate(513.3,113.15) scale(1,0.95)" font-size="10.2" text-anchor="end" fill="#4d4d4d">5000</text>
<line x1="514.9" y1="86.1" x2="518.3" y2="86.1" stroke="#333333" stroke-width="1.1"/>
<text transform="translate(513.3,89.5) scale(1,0.95)" font-size="10.2" text-anchor="end" fill="#4d4d4d">10000</text>
<line x1="514.9" y1="62.45" x2="518.3" y2="62.45" stroke="#333333" stroke-width="1.1"/>
<text transform="translate(513.3,65.85) scale(1,0.95)" font-size="10.2" text-anchor="end" fill="#4d4d4d">15000</text>
<line x1="514.9" y1="38.8" x2="518.3" y2="38.8" stroke="#333333" stroke-width="1.1"/>
<text transform="translate(513.3,42.2) scale(1,0.95)" font-size="10.2" text-anchor="end" fill="#4d4d4d">20000</text>
<line x1="525.5" y1="138.5" x2="525.5" y2="141.9" stroke="#333333" stroke-width="1.1"/>
<text transform="translate(525.5,150.2) scale(1,0.95)" font-size="10.2" text-anchor="middle" fill="#4d4d4d">1</text>
<line x1="546" y1="138.5" x2="546" y2="141.9" stroke="#333333" stroke-width="1.1"/>
<text transform="translate(546,150.2) scale(1,0.95)" font-size="10.2" text-anchor="middle" fill="#4d4d4d">2</text>
<line x1="566.5" y1="138.5" x2="566.5" y2="141.9" stroke="#333333" stroke-width="1.1"/>
<text transform="translate(566.5,150.2) scale(1,0.95)" font-size="10.2" text-anchor="middle" fill="#4d4d4d">3</text>
<line x1="587" y1="138.5" x2="587" y2="141.9" stroke="#333333" stroke-width="1.1"/>
<text transform="translate(587,150.2) scale(1,0.95)" font-size="10.2" text-anchor="middle" fill="#4d4d4d">4</text>
<line x1="607.5" y1="138.5" x2="607.5" y2="141.9" stroke="#333333" stroke-width="1.1"/>
<text transform="translate(607.5,150.2) scale(1,0.95)" font-size="10.2" text-anchor="middle" fill="#4d4d4d">5</text>
<line x1="628" y1="138.5" x2="628" y2="141.9" stroke="#333333" stroke-width="1.1"/>
<text transform="translate(628,150.2) scale(1,0.95)" font-size="10.2" text-anchor="middle" fill="#4d4d4d">6</text>
<line x1="648.5" y1="138.5" x2="648.5" y2="141.9" stroke="#333333" stroke-width="1.1"/>
<text transform="translate(648.5,150.2) scale(1,0.95)" font-size="10.2" text-anchor="middle" fill="#4d4d4d">7</text>
<line x1="669" y1="138.5" x2="669" y2="141.9" stroke="#333333" stroke-width="1.1"/>
<text transform="translate(669,150.2) scale(1,0.95)" font-size="10.2" text-anchor="middle" fill="#4d4d4d">8</text>
<polyline points="525.5,71.48 546,117.41 566.5,129.71 587,132.5 607.5,133.31 628,133.4 648.5,133.4 669,133.4" fill="none" stroke="#a0a0a0" stroke-width="1.3" stroke-linejoin="round"/>
<polyline points="525.5,24.7 546,84.4 566.5,114.5 587,127.3 607.5,130.85 628,132.31 648.5,132.93 669,133.16" fill="none" stroke="#1f7f3b" stroke-width="1.3" stroke-linejoin="round"/>
<circle cx="525.5" cy="71.48" r="2.5" fill="#a3a3a3"/>
<circle cx="546" cy="117.41" r="2.5" fill="#a3a3a3"/>
<circle cx="566.5" cy="129.71" r="2.5" fill="#a3a3a3"/>
<circle cx="587" cy="132.5" r="2.5" fill="#a3a3a3"/>
<circle cx="607.5" cy="133.31" r="2.5" fill="#a3a3a3"/>
<circle cx="628" cy="133.4" r="2.5" fill="#a3a3a3"/>
<circle cx="648.5" cy="133.4" r="2.5" fill="#a3a3a3"/>
<circle cx="669" cy="133.4" r="2.5" fill="#a3a3a3"/>
<circle cx="525.5" cy="24.7" r="2.5" fill="#187a33"/>
<circle cx="546" cy="84.4" r="2.5" fill="#187a33"/>
<circle cx="566.5" cy="114.5" r="2.5" fill="#187a33"/>
<circle cx="587" cy="127.3" r="2.5" fill="#187a33"/>
<circle cx="607.5" cy="130.85" r="2.5" fill="#187a33"/>
<circle cx="628" cy="132.31" r="2.5" fill="#187a33"/>
<circle cx="648.5" cy="132.93" r="2.5" fill="#187a33"/>
<circle cx="669" cy="133.16" r="2.5" fill="#187a33"/>
<line x1="596.8" y1="37" x2="611" y2="37" stroke="#1f7f3b" stroke-width="1.3"/>
<circle cx="603.9" cy="37" r="2.4" fill="#187a33"/>
<text transform="translate(617.99,40.6) scale(1,0.95)" font-size="10" fill="#1a1a1a" textLength="50.35" lengthAdjust="spacingAndGlyphs">FMT(n=12)</text>
<line x1="596.8" y1="54.7" x2="611" y2="54.7" stroke="#a0a0a0" stroke-width="1.3"/>
<circle cx="603.9" cy="54.7" r="2.4" fill="#a3a3a3"/>
<text transform="translate(617.98,58.3) scale(1,0.95)" font-size="10" fill="#1a1a1a" textLength="66.96" lengthAdjust="spacingAndGlyphs">Placebo(n=12)</text>
<text transform="translate(613.24,86.8) scale(1,0.92)" font-size="8" fill="#1a1a1a" textLength="61.81" lengthAdjust="spacingAndGlyphs">Permutation Test</text>
<text transform="translate(616.51,97.3) scale(1,0.92)" font-size="8" fill="#1a1a1a" textLength="58.44" lengthAdjust="spacingAndGlyphs">p-value = 0.005</text>
<rect x="524.95" y="168.32" width="15.3" height="90.2" fill="#1f7538"/>
<rect x="524.95" y="257.92" width="15.3" height="19.98" fill="#9b9b9b"/>
<rect x="541.12" y="212.8" width="15.3" height="24.9" fill="#fc8d59"/>
<rect x="541.12" y="237.1" width="15.3" height="35.9" fill="#1f7538"/>
<rect x="541.12" y="272.4" width="15.3" height="5.5" fill="#9b9b9b"/>
<rect x="557.29" y="242" width="15.3" height="22.01" fill="#fc8d59"/>
<rect x="557.29" y="263.41" width="15.3" height="13.19" fill="#1f7538"/>
<rect x="557.29" y="276" width="15.3" height="1.9" fill="#9b9b9b"/>
<rect x="573.46" y="262.1" width="15.3" height="12.4" fill="#fc8d59"/>
<rect x="573.46" y="273.9" width="15.3" height="3.2" fill="#1f7538"/>
<rect x="573.46" y="276.5" width="15.3" height="1.4" fill="#9b9b9b"/>
<rect x="589.63" y="270.1" width="15.3" height="6.5" fill="#fc8d59"/>
<rect x="589.63" y="276" width="15.3" height="1.4" fill="#1f7538"/>
<rect x="589.63" y="276.8" width="15.3" height="1.1" fill="#9b9b9b"/>
<rect x="605.8" y="273.92" width="15.3" height="3.29" fill="#fc8d59"/>
<rect x="605.8" y="276.61" width="15.3" height="1.29" fill="#1f7538"/>
<rect x="621.97" y="276" width="15.3" height="1.4" fill="#fc8d59"/>
<rect x="621.97" y="276.8" width="15.3" height="1.1" fill="#1f7538"/>
<rect x="638.14" y="276.8" width="15.3" height="1.1" fill="#1f7538"/>
<rect x="654.31" y="276.8" width="15.3" height="1.1" fill="#fc8d59"/>
<line x1="518.5" y1="163.3" x2="518.5" y2="283.45" stroke="#1e1e1e" stroke-width="1.3"/>
<line x1="517.85" y1="282.8" x2="676.1" y2="282.8" stroke="#1e1e1e" stroke-width="1.3"/>
<line x1="515.1" y1="277.4" x2="518.5" y2="277.4" stroke="#333333" stroke-width="1.1"/>
<text transform="translate(513.5,280.8) scale(1,0.95)" font-size="10.2" text-anchor="end" fill="#4d4d4d">0</text>
<line x1="515.1" y1="251" x2="518.5" y2="251" stroke="#333333" stroke-width="1.1"/>
<text transform="translate(513.5,254.4) scale(1,0.95)" font-size="10.2" text-anchor="end" fill="#4d4d4d">5000</text>
<line x1="515.1" y1="224.6" x2="518.5" y2="224.6" stroke="#333333" stroke-width="1.1"/>
<text transform="translate(513.5,228) scale(1,0.95)" font-size="10.2" text-anchor="end" fill="#4d4d4d">10000</text>
<line x1="515.1" y1="198.2" x2="518.5" y2="198.2" stroke="#333333" stroke-width="1.1"/>
<text transform="translate(513.5,201.6) scale(1,0.95)" font-size="10.2" text-anchor="end" fill="#4d4d4d">15000</text>
<line x1="515.1" y1="171.8" x2="518.5" y2="171.8" stroke="#333333" stroke-width="1.1"/>
<text transform="translate(513.5,175.2) scale(1,0.95)" font-size="10.2" text-anchor="end" fill="#4d4d4d">20000</text>
<line x1="532.6" y1="282.8" x2="532.6" y2="286.2" stroke="#333333" stroke-width="1.1"/>
<text transform="translate(532.6,294.5) scale(1,0.95)" font-size="10.2" text-anchor="middle" fill="#4d4d4d">1</text>
<line x1="548.77" y1="282.8" x2="548.77" y2="286.2" stroke="#333333" stroke-width="1.1"/>
<text transform="translate(548.77,294.5) scale(1,0.95)" font-size="10.2" text-anchor="middle" fill="#4d4d4d">2</text>
<line x1="564.94" y1="282.8" x2="564.94" y2="286.2" stroke="#333333" stroke-width="1.1"/>
<text transform="translate(564.94,294.5) scale(1,0.95)" font-size="10.2" text-anchor="middle" fill="#4d4d4d">3</text>
<line x1="581.11" y1="282.8" x2="581.11" y2="286.2" stroke="#333333" stroke-width="1.1"/>
<text transform="translate(581.11,294.5) scale(1,0.95)" font-size="10.2" text-anchor="middle" fill="#4d4d4d">4</text>
<line x1="597.28" y1="282.8" x2="597.28" y2="286.2" stroke="#333333" stroke-width="1.1"/>
<text transform="translate(597.28,294.5) scale(1,0.95)" font-size="10.2" text-anchor="middle" fill="#4d4d4d">5</text>
<line x1="613.45" y1="282.8" x2="613.45" y2="286.2" stroke="#333333" stroke-width="1.1"/>
<text transform="translate(613.45,294.5) scale(1,0.95)" font-size="10.2" text-anchor="middle" fill="#4d4d4d">6</text>
<line x1="629.62" y1="282.8" x2="629.62" y2="286.2" stroke="#333333" stroke-width="1.1"/>
<text transform="translate(629.62,294.5) scale(1,0.95)" font-size="10.2" text-anchor="middle" fill="#4d4d4d">7</text>
<line x1="645.79" y1="282.8" x2="645.79" y2="286.2" stroke="#333333" stroke-width="1.1"/>
<text transform="translate(645.79,294.5) scale(1,0.95)" font-size="10.2" text-anchor="middle" fill="#4d4d4d">8</text>
<line x1="661.96" y1="282.8" x2="661.96" y2="286.2" stroke="#333333" stroke-width="1.1"/>
<text transform="translate(661.96,294.5) scale(1,0.95)" font-size="10.2" text-anchor="middle" fill="#4d4d4d">9</text>
<text transform="translate(603.35,176.4) scale(1,0.95)" font-size="9.4" fill="#1a1a1a" textLength="58.96" lengthAdjust="spacingAndGlyphs">FMT+Placebo</text>
<text transform="translate(617.46,188.5) scale(1,0.95)" font-size="9.4" fill="#1a1a1a" textLength="31.06" lengthAdjust="spacingAndGlyphs">(n=24)</text>
<line x1="518.3" y1="307.6" x2="518.3" y2="427.35" stroke="#1e1e1e" stroke-width="1.3"/>
<line x1="517.65" y1="426.7" x2="676.1" y2="426.7" stroke="#1e1e1e" stroke-width="1.3"/>
<line x1="514.9" y1="421.9" x2="518.3" y2="421.9" stroke="#333333" stroke-width="1.1"/>
<text transform="translate(513.3,425.3) scale(1,0.95)" font-size="10.2" text-anchor="end" fill="#4d4d4d">0</text>
<line x1="514.9" y1="396.3" x2="518.3" y2="396.3" stroke="#333333" stroke-width="1.1"/>
<text transform="translate(513.3,399.7) scale(1,0.95)" font-size="10.2" text-anchor="end" fill="#4d4d4d">5000</text>
<line x1="514.9" y1="370.7" x2="518.3" y2="370.7" stroke="#333333" stroke-width="1.1"/>
<text transform="translate(513.3,374.1) scale(1,0.95)" font-size="10.2" text-anchor="end" fill="#4d4d4d">10000</text>
<line x1="514.9" y1="345.1" x2="518.3" y2="345.1" stroke="#333333" stroke-width="1.1"/>
<text transform="translate(513.3,348.5) scale(1,0.95)" font-size="10.2" text-anchor="end" fill="#4d4d4d">15000</text>
<line x1="514.9" y1="319.5" x2="518.3" y2="319.5" stroke="#333333" stroke-width="1.1"/>
<text transform="translate(513.3,322.9) scale(1,0.95)" font-size="10.2" text-anchor="end" fill="#4d4d4d">20000</text>
<line x1="525.6" y1="426.7" x2="525.6" y2="430.1" stroke="#333333" stroke-width="1.1"/>
<text transform="translate(525.6,438.4) scale(1,0.95)" font-size="10.2" text-anchor="middle" fill="#4d4d4d">1</text>
<line x1="573.5" y1="426.7" x2="573.5" y2="430.1" stroke="#333333" stroke-width="1.1"/>
<text transform="translate(573.5,438.4) scale(1,0.95)" font-size="10.2" text-anchor="middle" fill="#4d4d4d">2</text>
<line x1="621.4" y1="426.7" x2="621.4" y2="430.1" stroke="#333333" stroke-width="1.1"/>
<text transform="translate(621.4,438.4) scale(1,0.95)" font-size="10.2" text-anchor="middle" fill="#4d4d4d">3</text>
<line x1="669.3" y1="426.7" x2="669.3" y2="430.1" stroke="#333333" stroke-width="1.1"/>
<text transform="translate(669.3,438.4) scale(1,0.95)" font-size="10.2" text-anchor="middle" fill="#4d4d4d">4</text>
<polyline points="525.6,313.2 573.5,384.37 621.4,414.37 669.3,420.98" fill="none" stroke="#2366b0" stroke-width="1.3" stroke-linejoin="round"/>
<polyline points="525.6,346.69 573.5,405.93 621.4,418.57 669.3,421.75" fill="none" stroke="#b8202f" stroke-width="1.3" stroke-linejoin="round"/>
<circle cx="525.6" cy="313.2" r="2.5" fill="#2366b0"/>
<circle cx="573.5" cy="384.37" r="2.5" fill="#2366b0"/>
<circle cx="621.4" cy="414.37" r="2.5" fill="#2366b0"/>
<circle cx="669.3" cy="420.98" r="2.5" fill="#2366b0"/>
<circle cx="525.6" cy="346.69" r="2.5" fill="#b8202f"/>
<circle cx="573.5" cy="405.93" r="2.5" fill="#b8202f"/>
<circle cx="621.4" cy="418.57" r="2.5" fill="#b8202f"/>
<circle cx="669.3" cy="421.75" r="2.5" fill="#b8202f"/>
<line x1="602" y1="325.7" x2="616.2" y2="325.7" stroke="#b8202f" stroke-width="1.3"/>
<circle cx="609.1" cy="325.7" r="2.4" fill="#b8202f"/>
<text transform="translate(623.08,329.3) scale(1,0.95)" font-size="10" fill="#1a1a1a" textLength="55.22" lengthAdjust="spacingAndGlyphs">NoRes(n=6)</text>
<line x1="602" y1="343.2" x2="616.2" y2="343.2" stroke="#2366b0" stroke-width="1.3"/>
<circle cx="609.1" cy="343.2" r="2.4" fill="#2366b0"/>
<text transform="translate(623.07,346.8) scale(1,0.95)" font-size="10" fill="#1a1a1a" textLength="42.96" lengthAdjust="spacingAndGlyphs">Res(n=6)</text>
<text transform="translate(609.45,375.9) scale(1,0.92)" font-size="8" fill="#1a1a1a" textLength="60.9" lengthAdjust="spacingAndGlyphs">Permutation Test</text>
<text transform="translate(612.82,385.6) scale(1,0.92)" font-size="8" fill="#1a1a1a" textLength="57.83" lengthAdjust="spacingAndGlyphs">p-value = 0.296</text>
<text transform="translate(9.3,277.04) rotate(-90) scale(1,1)" font-size="11.8" fill="#000" font-weight="bold" textLength="112.57" lengthAdjust="spacingAndGlyphs"># of engrafted ASVs</text>
<text transform="translate(244.6,313.54) rotate(-90) scale(1,1)" font-size="11.8" fill="#000" font-weight="bold" textLength="173.7" lengthAdjust="spacingAndGlyphs"># of engrafted species markers</text>
<text transform="translate(463.5,310.44) rotate(-90) scale(1,1)" font-size="11.8" fill="#000" font-weight="bold" textLength="169.2" lengthAdjust="spacingAndGlyphs"># of engrafted strains markers</text>
<text transform="translate(62.37,457.3) scale(1,0.95)" font-size="11.8" fill="#000" font-weight="bold" textLength="133.11" lengthAdjust="spacingAndGlyphs">Increasing # of patients</text>
<text transform="translate(291.56,456.2) scale(1,0.95)" font-size="11.8" fill="#000" font-weight="bold" textLength="133.51" lengthAdjust="spacingAndGlyphs">Increasing # of patients</text>
<text transform="translate(532.37,456.2) scale(1,0.95)" font-size="11.8" fill="#000" font-weight="bold" textLength="132.7" lengthAdjust="spacingAndGlyphs">Increasing # of patients</text>
</svg>
</body></html>
